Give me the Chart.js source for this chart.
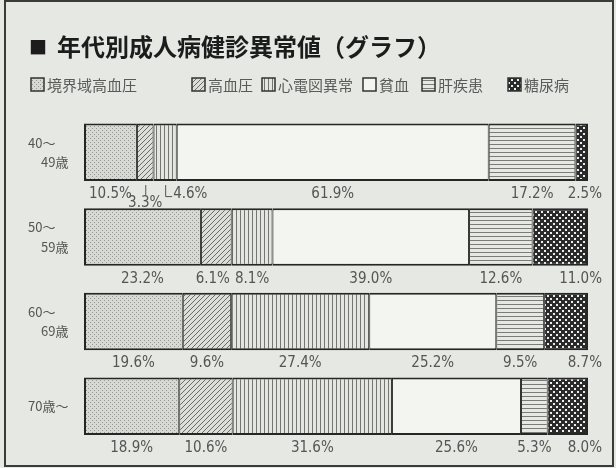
<!DOCTYPE html>
<html>
<head>
<meta charset="utf-8">
<script src="https://cdn.jsdelivr.net/npm/chart.js@4.4.0/dist/chart.umd.min.js"></script>
<style>
  body { margin: 0; background: #e6e8e3; }
  #wrap { position: relative; width: 616px; height: 468px; }
  #frame { position: absolute; left: 4px; top: 0; width: 606px; height: 463px; border: 2px solid #3a3a3a; pointer-events: none; }
</style>
</head>
<body>
<div id="wrap">
  <canvas id="chart" width="616" height="468"></canvas>
  <div id="frame"></div>
</div>
<script>
const tickLabels = [["40～", "　49歳"], ["50～", "　59歳"], ["60～", "　69歳"], ["70歳～"]];
const seriesNames = ["境界域高血圧", "高血圧", "心電図異常", "貧血", "肝疾患", "糖尿病"];
const borderlineHypertension = [10.5, 23.2, 19.6, 18.9];
const hypertension = [3.3, 6.1, 9.6, 10.6];
const ecgAbnormal = [4.6, 8.1, 27.4, 31.6];
const anemia = [61.9, 39.0, 25.2, 25.6];
const liverDisease = [17.2, 12.6, 9.5, 5.3];
const diabetes = [2.5, 11.0, 8.7, 8.0];
const seriesValues = [borderlineHypertension, hypertension, ecgAbnormal, anemia, liverDisease, diabetes];

const jpFont = '"Noto Sans CJK JP", "Noto Sans", sans-serif';
const numFont = '"Liberation Sans Narrow", "DejaVu Sans Condensed", "Liberation Sans", sans-serif';

function makePattern(w, h, draw) {
  const c = document.createElement("canvas");
  c.width = w;
  c.height = h;
  const g = c.getContext("2d");
  draw(g);
  return g.createPattern(c, "repeat");
}

const patterns = [
  // stipple
  makePattern(4, 4, (g) => {
    g.fillStyle = "#d7d9d5";
    g.fillRect(0, 0, 4, 4);
    g.fillStyle = "#979995";
    g.fillRect(0, 0, 1, 1);
    g.fillRect(2, 2, 1, 1);
  }),
  // diagonal
  makePattern(5, 5, (g) => {
    g.fillStyle = "#dcdeda";
    g.fillRect(0, 0, 5, 5);
    g.fillStyle = "#6a6c68";
    for (let i = 0; i < 5; i++) g.fillRect(i, 4 - i, 1, 1);
  }),
  // vertical lines
  makePattern(4, 1, (g) => {
    g.fillStyle = "#e4e6e2";
    g.fillRect(0, 0, 4, 1);
    g.fillStyle = "#747672";
    g.fillRect(0, 0, 1, 1);
  }),
  // plain
  makePattern(1, 1, (g) => {
    g.fillStyle = "#f3f5f1";
    g.fillRect(0, 0, 1, 1);
  }),
  // horizontal lines
  makePattern(1, 4, (g) => {
    g.fillStyle = "#e6e8e4";
    g.fillRect(0, 0, 1, 4);
    g.fillStyle = "#7a7c78";
    g.fillRect(0, 0, 1, 1);
  }),
  // dark with white dots
  makePattern(6, 6, (g) => {
    g.fillStyle = "#2a2a2a";
    g.fillRect(0, 0, 6, 6);
    g.fillStyle = "#ececec";
    g.fillRect(1, 1, 2, 2);
    g.fillRect(4, 4, 2, 2);
  }),
];

function borderFor(i) {
  return { top: 2, bottom: 2, left: i === 0 ? 2 : 1, right: i === seriesNames.length - 1 ? 2 : 1 };
}

const decor = {
  id: "decor",
  beforeDraw(chart) {
    const ctx = chart.ctx;
    ctx.save();
    ctx.fillStyle = "#e6e8e3";
    ctx.fillRect(0, 0, chart.width, chart.height);
    ctx.restore();
  },
  afterDraw(chart) {
    const ctx = chart.ctx;
    ctx.save();
    // title
    ctx.fillStyle = "#1c1c1c";
    ctx.textBaseline = "middle";
    ctx.font = "18px " + jpFont;
    ctx.fillText("■", 29, 47);
    ctx.font = "bold 24px " + jpFont;
    ctx.fillText("年代別成人病健診異常値（グラフ）", 57, 47);

    // legend
    const legendX = [31, 192, 262, 363, 422, 508];
    ctx.font = "15px " + jpFont;
    seriesNames.forEach((name, i) => {
      const x = legendX[i];
      ctx.fillStyle = patterns[i];
      ctx.fillRect(x, 78, 13, 13);
      ctx.strokeStyle = "#333";
      ctx.lineWidth = 1.5;
      ctx.strokeRect(x, 78, 13, 13);
      ctx.fillStyle = "#5a5a5a";
      ctx.textAlign = "left";
      ctx.fillText(name, x + 16, 85);
    });

    // value labels under each bar
    const right = chart.chartArea.right;
    const last = seriesValues.length - 1;
    ctx.font = "15px " + numFont;
    ctx.fillStyle = "#555";
    ctx.strokeStyle = "#555";
    ctx.lineWidth = 1;
    ctx.textAlign = "left";
    tickLabels.forEach((_, j) => {
      let narrow = 0;
      const items = [];
      seriesValues.forEach((vals, i) => {
        const el = chart.getDatasetMeta(i).data[j];
        const x0 = Math.min(el.base, el.x);
        const x1 = Math.max(el.base, el.x);
        const bottom = el.y + el.height / 2;
        const text = vals[j].toFixed(1) + "%";
        const w = ctx.measureText(text).width;
        const cx = (x0 + x1) / 2;
        const y = bottom + 13;
        if (i === last) {
          items.push({ text, left: right + 14 - w, w, y });
        } else if (x1 - x0 < 25 && narrow === 0) {
          // first narrow segment: label on a second line with a short leader
          narrow++;
          ctx.beginPath();
          ctx.moveTo(cx + 0.5, bottom + 4);
          ctx.lineTo(cx + 0.5, bottom + 14);
          ctx.stroke();
          ctx.fillText(text, cx - w / 2, bottom + 22);
        } else if (x1 - x0 < 25) {
          // second narrow segment: bent leader to the right
          narrow++;
          ctx.beginPath();
          ctx.moveTo(cx + 0.5, bottom + 4);
          ctx.lineTo(cx + 0.5, y + 2.5);
          ctx.lineTo(cx + 7, y + 2.5);
          ctx.stroke();
          items.push({ text, left: cx + 8, w, y, fixed: true });
        } else {
          items.push({ text, left: cx - w / 2, w, y });
        }
      });
      // push apart overlapping labels, right to left from the fixed last one
      for (let k = items.length - 2; k >= 0; k--) {
        const lim = items[k + 1].left - 5;
        if (!items[k].fixed && items[k].left + items[k].w > lim) items[k].left = lim - items[k].w;
      }
      items.forEach((it) => ctx.fillText(it.text, it.left, it.y));
    });
    ctx.restore();
  },
};

new Chart(document.getElementById("chart"), {
  type: "bar",
  data: {
    labels: tickLabels,
    datasets: seriesNames.map((name, i) => ({
      label: name,
      data: seriesValues[i],
      backgroundColor: patterns[i],
      borderColor: "#262626",
      borderWidth: borderFor(i),
      borderSkipped: false,
      barPercentage: 0.68,
      categoryPercentage: 1,
    })),
  },
  options: {
    indexAxis: "y",
    responsive: false,
    animation: false,
    devicePixelRatio: 1,
    layout: { padding: { left: 28, right: 28, top: 110, bottom: 19 } },
    plugins: {
      legend: { display: false },
      title: { display: false },
      tooltip: { enabled: false },
    },
    scales: {
      x: { stacked: true, min: 0, max: 100, display: false },
      y: {
        stacked: true,
        grid: { display: false, drawTicks: false },
        border: { display: false },
        ticks: {
          crossAlign: "far",
          padding: 0,
          color: "#555",
          font: { family: jpFont, size: 13, lineHeight: 1.5 },
        },
        afterFit(scale) {
          scale.width = 56;
        },
      },
    },
  },
  plugins: [decor],
});
</script>
</body>
</html>
